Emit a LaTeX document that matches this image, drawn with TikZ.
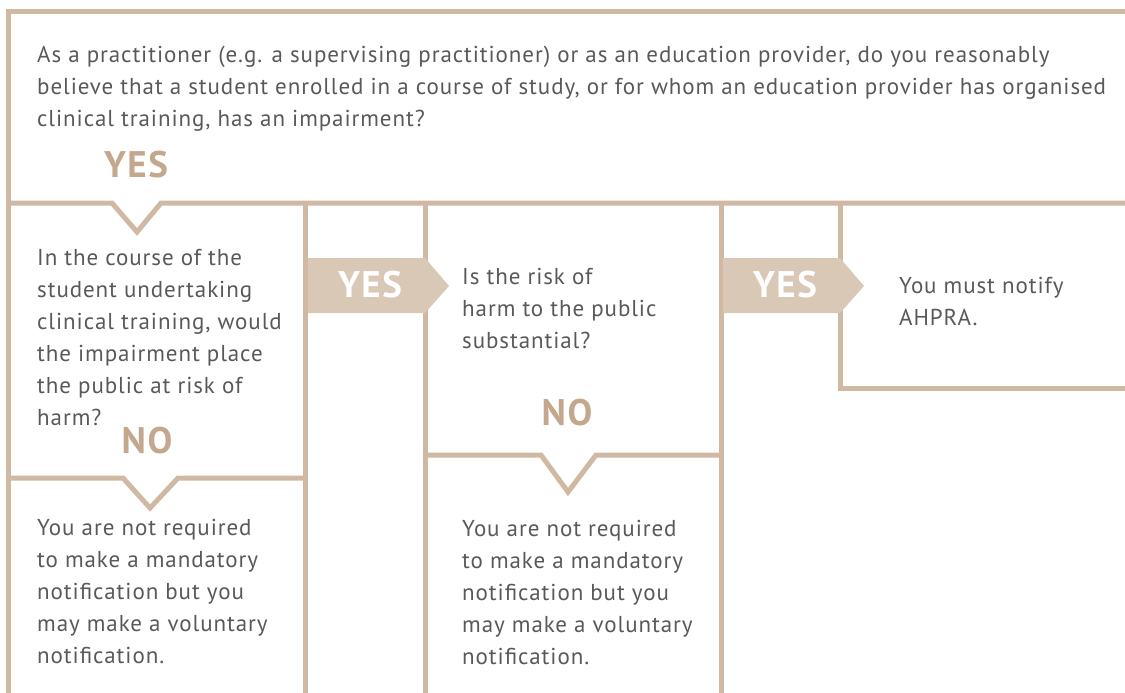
\documentclass[tikz,border=0pt]{standalone}
\usepackage{fontspec}
\setmainfont{PT Sans}[LetterSpace=4]
\definecolor{ruletan}{HTML}{CFB9A3}
\definecolor{chevtan}{HTML}{D9C8B6}
\definecolor{answertan}{HTML}{C4A88D}
\definecolor{bodygray}{HTML}{58595B}

\begin{document}
\begin{tikzpicture}[
  x = 1pt, y = -1pt,
  rule/.style={draw=ruletan, line width=5pt},
  body/.style={anchor=north west, inner sep=0pt, align=left, text=bodygray, font=\fontsize{23}{32}\selectfont},
  answer/.style={inner sep=0pt, text=answertan, font=\bfseries\fontsize{37}{37}\selectfont},
  chevron/.style={fill=chevtan},
  chevtext/.style={inner sep=0pt, text=white, font=\bfseries\fontsize{37}{37}\selectfont}
]
    \useasboundingbox (0, 0) rectangle (1125, 693);

    % Frame and columns
    \draw[rule] (1130, 12) -- (8, 12) -- (8, 700);
    \draw[rule] (8, 203) -- (112, 203) -- (137, 232) -- (161, 203) -- (1130, 203);
    \draw[rule] (305, 203) -- (305, 700);
    \draw[rule] (425, 203) -- (425, 700);
    \draw[rule] (721, 203) -- (721, 700);
    \draw[rule] (8, 478) -- (123, 478) -- (150, 508) -- (178, 478) -- (305, 478);
    \draw[rule] (425, 455) -- (541, 455) -- (568, 492) -- (596, 455) -- (721, 455);
    \draw[rule] (840, 203) -- (840, 388) -- (1130, 388);

    % Chevrons
    \fill[chevron] (308, 258) -- (425, 258) -- (449, 286) -- (425, 313) -- (308, 313) -- cycle;
    \fill[chevron] (723, 258) -- (840, 258) -- (864, 286) -- (840, 313) -- (723, 313) -- cycle;

    % Question
    \node (question) at (37, 46) [body] {As a practitioner (e.g. a supervising practitioner) or as an education provider, do you reasonably\\
      believe that a student enrolled in a course of study, or for whom an education provider has organised\\
      clinical training, has an impairment?};
    \node (yesA) at (136, 165) [answer] {YES};

    % Risk of harm
    \node (impair) at (37, 249) [body] {In the course of the\\ student undertaking\\ clinical training, would\\ the impairment place\\ the public at risk of\\ harm?};
    \node (noA) at (147, 441) [answer] {NO};
    \node (advA) at (37, 519) [body] {You are not required\\ to make a mandatory\\ notification but you\\ may make a voluntary\\ notification.};

    % Substantial risk
    \node (yesB) at (370, 285) [chevtext] {YES};
    \node (risk) at (462, 268) [body] {Is the risk of\\ harm to the public\\ substantial?};
    \node (noB) at (567, 413) [answer] {NO};
    \node (advB) at (462, 520) [body] {You are not required\\ to make a mandatory\\ notification but you\\ may make a voluntary\\ notification.};

    % Notify
    \node (yesC) at (785, 285) [chevtext] {YES};
    \node (notify) at (899, 277) [body] {You must notify\\ AHPRA.};
\end{tikzpicture}
\end{document}
